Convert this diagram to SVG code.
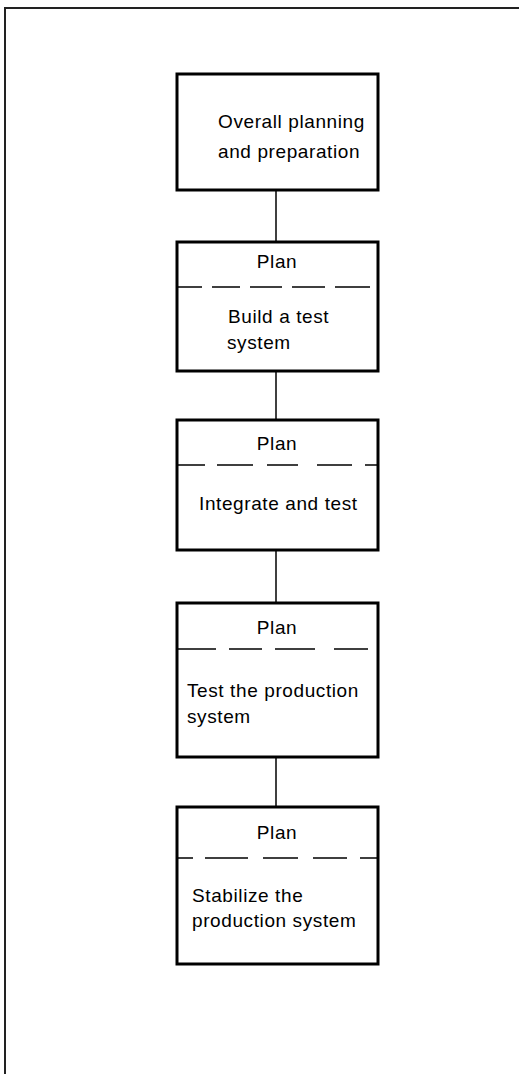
<svg xmlns="http://www.w3.org/2000/svg" width="519" height="1074" viewBox="0 0 519 1074">
<style>
.frame{fill:none;stroke:#222;stroke-width:2}
.box{fill:#fff;stroke:#000;stroke-width:3}
.dash{fill:none;stroke:#000;stroke-width:1.5}
.conn{fill:none;stroke:#000;stroke-width:1.5}
text{font-family:"Liberation Sans",Arial,sans-serif;font-size:19px;fill:#000;letter-spacing:0.6px}
.c{text-anchor:middle}
</style>
<rect width="519" height="1074" fill="#fff"/>
<path class="frame" d="M5,1074 V8 H519"/>
<g id="connectors">
<path class="conn" d="M276,190 V242"/>
<path class="conn" d="M276,371 V420"/>
<path class="conn" d="M276,550 V603"/>
<path class="conn" d="M276,757 V807"/>
</g>
<g id="node1">
<rect class="box" x="177" y="74" width="201" height="116"/>
<text x="218" y="128">Overall planning</text>
<text x="218" y="158">and preparation</text>
</g>
<g id="node2">
<rect class="box" x="177" y="242" width="201" height="129"/>
<text class="c" x="277" y="268">Plan</text>
<path class="dash" d="M178,287 H202 M212,287 H240 M250,287 H282 M292,287 H325 M335,287 H370"/>
<text x="228" y="323">Build a test</text>
<text x="227" y="349">system</text>
</g>
<g id="node3">
<rect class="box" x="177" y="420" width="201" height="130"/>
<text class="c" x="277" y="450">Plan</text>
<path class="dash" d="M178,465 H205 M217,465 H253 M267,465 H298 M317,465 H352 M365,465 H377"/>
<text x="199" y="510">Integrate and test</text>
</g>
<g id="node4">
<rect class="box" x="177" y="603" width="201" height="154"/>
<text class="c" x="277" y="634">Plan</text>
<path class="dash" d="M178,649 H216 M229,649 H262 M275,649 H315 M334,649 H368"/>
<text x="187" y="697">Test the production</text>
<text x="187" y="723">system</text>
</g>
<g id="node5">
<rect class="box" x="177" y="807" width="201" height="157"/>
<text class="c" x="277" y="839">Plan</text>
<path class="dash" d="M178,858 H193 M205,858 H248 M263,858 H298 M313,858 H347 M360,858 H377"/>
<text x="192" y="902">Stabilize the</text>
<text x="192" y="927">production system</text>
</g>
</svg>
